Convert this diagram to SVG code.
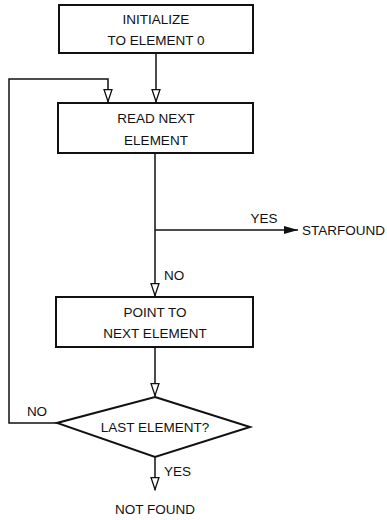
<svg xmlns="http://www.w3.org/2000/svg" width="387" height="520" viewBox="0 0 387 520">
<defs>
<style>
.box{fill:#fff;stroke:#111;stroke-width:2}
.ln{fill:none;stroke:#111;stroke-width:1.5}
text{font-family:"Liberation Sans",Arial,sans-serif;font-size:13.5px;fill:#111}
.c{text-anchor:middle}
</style>
<marker id="open" viewBox="0 0 14 10" refX="13.5" refY="5" markerWidth="14" markerHeight="10" markerUnits="userSpaceOnUse" orient="auto">
<path d="M1,1 L13,5 L1,9 Z" fill="#fff" stroke="#111" stroke-width="1.3"/>
</marker>
<marker id="fill" viewBox="0 0 14 8" refX="14" refY="4" markerWidth="14" markerHeight="8" markerUnits="userSpaceOnUse" orient="auto">
<path d="M0,0 L14,4 L0,8 Z" fill="#111"/>
</marker>
</defs>
<g id="connectors">
<line class="ln" x1="156" y1="53" x2="156" y2="102" marker-end="url(#open)"/>
<polyline class="ln" points="57,423 9,423 9,79 108,79 108,102" marker-end="url(#open)"/>
<line class="ln" x1="155" y1="153" x2="155" y2="296" marker-end="url(#open)"/>
<line class="ln" x1="155" y1="230" x2="298" y2="230" marker-end="url(#fill)"/>
<line class="ln" x1="155" y1="347" x2="155" y2="396" marker-end="url(#open)"/>
<line class="ln" x1="155" y1="457" x2="155" y2="490" marker-end="url(#open)"/>
<text x="264" y="223" class="c">YES</text>
<text x="164" y="280">NO</text>
<text x="37" y="416" class="c">NO</text>
<text x="164" y="476">YES</text>
</g>
<g id="n1">
<rect class="box" x="59" y="5" width="194" height="48"/>
<text x="156" y="24" class="c">INITIALIZE</text>
<text x="156" y="45" class="c">TO ELEMENT 0</text>
</g>
<g id="n2">
<rect class="box" x="58" y="103" width="195" height="50"/>
<text x="156" y="123" class="c">READ NEXT</text>
<text x="156" y="145" class="c">ELEMENT</text>
</g>
<g id="n3">
<rect class="box" x="56" y="297" width="197" height="50"/>
<text x="155" y="317" class="c">POINT TO</text>
<text x="155" y="338" class="c">NEXT ELEMENT</text>
</g>
<g id="n4">
<polygon class="box" points="155,397 250,427 155,457 57,423"/>
<text x="155" y="432" class="c">LAST ELEMENT?</text>
</g>
<g id="starfound">
<text x="302" y="235">STARFOUND</text>
</g>
<g id="notfound">
<text x="155" y="514" class="c">NOT FOUND</text>
</g>
</svg>
